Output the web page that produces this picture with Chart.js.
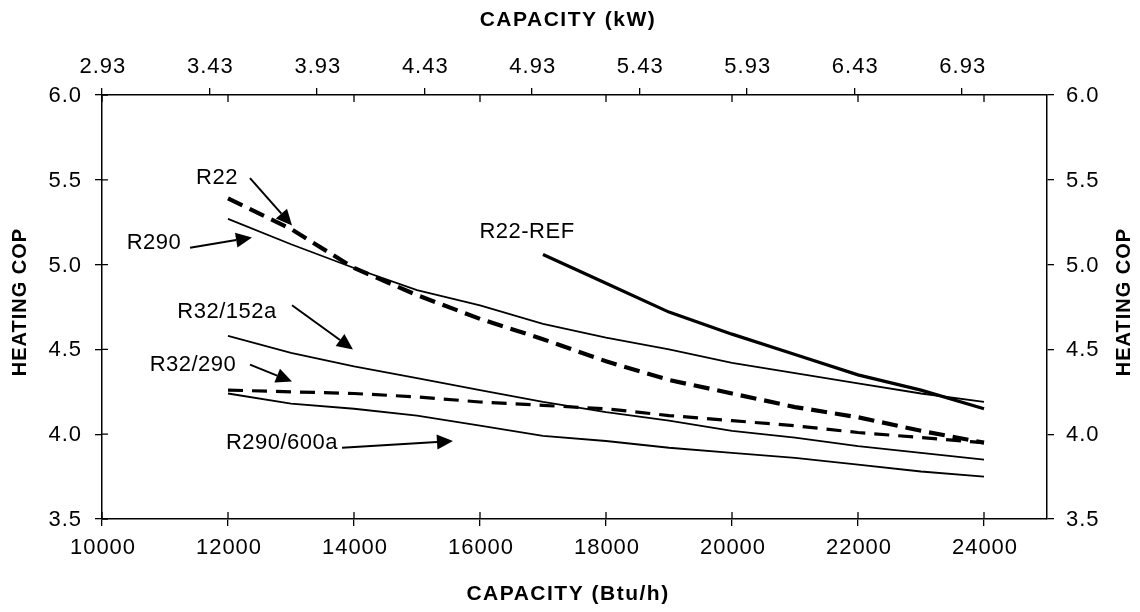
<!DOCTYPE html>
<html>
<head>
<meta charset="utf-8">
<script src="https://cdn.jsdelivr.net/npm/chart.js@4.4.1/dist/chart.umd.min.js"></script>
<style>
  html, body { margin: 0; padding: 0; background: #fff; }
  #wrap { width: 1140px; height: 612px; position: relative; }
</style>
</head>
<body>
<div id="wrap"><canvas id="c" width="1140" height="612"></canvas></div>
<script>
// ---- data ----
const capacityBtu = [12000, 13000, 14000, 15000, 16000, 17000, 18000, 19000, 20000, 21000, 22000, 23000, 24000];
const capacityRefBtu = [17000, 18000, 19000, 20000, 21000, 22000, 23000, 24000];
const copR22      = [5.39, 5.21, 4.98, 4.82, 4.68, 4.56, 4.43, 4.32, 4.24, 4.16, 4.10, 4.02, 3.95];
const copR290     = [5.27, 5.12, 4.98, 4.85, 4.76, 4.65, 4.57, 4.50, 4.42, 4.36, 4.30, 4.24, 4.19];
const copR22Ref   = [5.06, 4.89, 4.72, 4.59, 4.47, 4.35, 4.26, 4.15];
const copR32_152a = [4.58, 4.48, 4.40, 4.33, 4.26, 4.19, 4.13, 4.08, 4.02, 3.98, 3.93, 3.89, 3.85];
const copR32_290  = [4.26, 4.25, 4.24, 4.22, 4.19, 4.17, 4.15, 4.11, 4.08, 4.05, 4.01, 3.98, 3.95];
const copR290_600a= [4.24, 4.18, 4.15, 4.11, 4.05, 3.99, 3.96, 3.92, 3.89, 3.86, 3.82, 3.78, 3.75];

const btuTicks = [10000, 12000, 14000, 16000, 18000, 20000, 22000, 24000];
const kwTicks  = [2.93, 3.43, 3.93, 4.43, 4.93, 5.43, 5.93, 6.43, 6.93];
const copTicks = [3.5, 4.0, 4.5, 5.0, 5.5, 6.0];

const BTU_PER_KW = 3412.14;
const xMin = 10000, xMax = 25000;

const pts = (xs, ys) => xs.map((x, i) => ({ x: x, y: ys[i] }));

// annotations in data coordinates (Btu/h, COP)
const notes = [
  { text: 'R22',       tx: 11825, ty: 5.51, a: [12349, 5.51, 13016, 5.23] },
  { text: 'R290',      tx: 10825, ty: 5.13, a: [11397, 5.10, 12381, 5.16] },
  { text: 'R22-REF',   tx: 16746, ty: 5.19, a: null },
  { text: 'R32/152a',  tx: 11984, ty: 4.72, a: [13016, 4.76, 13984, 4.50] },
  { text: 'R32/290',   tx: 11444, ty: 4.41, a: [12349, 4.41, 13016, 4.31] },
  { text: 'R290/600a', tx: 12857, ty: 3.95, a: [13810, 3.92, 15571, 3.96] }
];

const FONT = '"Liberation Sans", Arial, sans-serif';

const crossTicks = {
  id: 'crossTicks',
  afterDraw(chart) {
    const ctx = chart.ctx, a = chart.chartArea;
    const x = chart.scales.x, y = chart.scales.y;
    ctx.save();
    ctx.strokeStyle = '#000';
    ctx.lineWidth = 1.3;
    ctx.beginPath();
    btuTicks.forEach(v => {
      const px = x.getPixelForValue(v);
      ctx.moveTo(px, a.bottom); ctx.lineTo(px, a.bottom - 7);
      ctx.moveTo(px, a.top); ctx.lineTo(px, a.top + 7);
    });
    copTicks.forEach(v => {
      const py = y.getPixelForValue(v);
      ctx.moveTo(a.left, py); ctx.lineTo(a.left + 6, py);
    });
    ctx.stroke();
    ctx.restore();
  }
};

// tick labels drawn at the scale positions
const tickLabels = {
  id: 'tickLabels',
  afterDraw(chart) {
    const ctx = chart.ctx, a = chart.chartArea, s = chart.scales;
    ctx.save();
    ctx.fillStyle = '#000';
    ctx.font = '22px ' + FONT;
    ctx.letterSpacing = '1px';
    ctx.textBaseline = 'middle';
    ctx.textAlign = 'center';
    btuTicks.forEach(v => ctx.fillText(String(v), s.x.getPixelForValue(v) + 1, a.bottom + 29));
    kwTicks.forEach(v => ctx.fillText(v.toFixed(2), s.x2.getPixelForValue(v) + 1, a.top - 28));
    ctx.textAlign = 'right';
    copTicks.forEach(v => ctx.fillText(v.toFixed(1), a.left - 20, s.y.getPixelForValue(v) + 1));
    ctx.textAlign = 'left';
    copTicks.forEach(v => ctx.fillText(v.toFixed(1), a.right + 19, s.y2.getPixelForValue(v) + 1));
    ctx.restore();
  }
};

const notesPlugin = {
  id: 'notes',
  afterDatasetsDraw(chart) {
    const ctx = chart.ctx;
    const x = chart.scales.x, y = chart.scales.y;
    ctx.save();
    ctx.fillStyle = '#000';
    ctx.strokeStyle = '#000';
    ctx.font = '22px ' + FONT;
    ctx.letterSpacing = '0.5px';
    ctx.textAlign = 'center';
    ctx.textBaseline = 'middle';
    notes.forEach(n => {
      ctx.fillText(n.text, x.getPixelForValue(n.tx), y.getPixelForValue(n.ty));
      if (n.a) {
        const x1 = x.getPixelForValue(n.a[0]), y1 = y.getPixelForValue(n.a[1]);
        const x2 = x.getPixelForValue(n.a[2]), y2 = y.getPixelForValue(n.a[3]);
        const ang = Math.atan2(y2 - y1, x2 - x1);
        const hl = 16, hw = 7.5;
        const bx = x2 - hl * Math.cos(ang), by = y2 - hl * Math.sin(ang);
        ctx.lineWidth = 2;
        ctx.beginPath(); ctx.moveTo(x1, y1); ctx.lineTo(bx, by); ctx.stroke();
        ctx.beginPath();
        ctx.moveTo(x2, y2);
        ctx.lineTo(bx + hw * Math.sin(ang), by - hw * Math.cos(ang));
        ctx.lineTo(bx - hw * Math.sin(ang), by + hw * Math.cos(ang));
        ctx.closePath(); ctx.fill();
      }
    });
    ctx.restore();
  }
};

const titlesPlugin = {
  id: 'titles',
  afterDraw(chart) {
    const ctx = chart.ctx;
    const cy = 302;
    ctx.save();
    ctx.fillStyle = '#000';
    ctx.font = 'bold 21px ' + FONT;
    ctx.letterSpacing = '1.5px';
    ctx.textAlign = 'center';
    ctx.textBaseline = 'middle';
    ctx.fillText('CAPACITY (kW)', 568, 20);
    ctx.fillText('CAPACITY (Btu/h)', 568, 594);
    ctx.font = 'bold 20px ' + FONT;
    ctx.letterSpacing = '1px';
    ctx.save(); ctx.translate(20, cy); ctx.rotate(-Math.PI / 2); ctx.fillText('HEATING COP', 0, 0); ctx.restore();
    ctx.save(); ctx.translate(1124, cy); ctx.rotate(-Math.PI / 2); ctx.fillText('HEATING COP', 0, 0); ctx.restore();
    ctx.restore();
  }
};

const thin = { borderColor: '#000', borderWidth: 1.8, pointRadius: 0, fill: false, tension: 0 };
const axisGrid = { display: true, drawOnChartArea: false, drawTicks: true, tickLength: 7, color: '#000', lineWidth: 1.3 };
const axisBorder = { display: true, color: '#000', width: 1.5 };

new Chart(document.getElementById('c'), {
  type: 'line',
  data: {
    datasets: [
      Object.assign({}, thin, { label: 'R22', data: pts(capacityBtu, copR22), borderWidth: 4.2, borderDash: [16, 8] }),
      Object.assign({}, thin, { label: 'R290', data: pts(capacityBtu, copR290) }),
      Object.assign({}, thin, { label: 'R22-REF', data: pts(capacityRefBtu, copR22Ref), borderWidth: 3.2 }),
      Object.assign({}, thin, { label: 'R32/152a', data: pts(capacityBtu, copR32_152a) }),
      Object.assign({}, thin, { label: 'R32/290', data: pts(capacityBtu, copR32_290), borderWidth: 3.2, borderDash: [15, 9] }),
      Object.assign({}, thin, { label: 'R290/600a', data: pts(capacityBtu, copR290_600a) })
    ]
  },
  options: {
    responsive: false,
    animation: false,
    devicePixelRatio: 1,
    layout: { padding: 0 },
    plugins: { legend: { display: false }, tooltip: { enabled: false } },
    scales: {
      x: {
        type: 'linear', position: 'bottom', min: xMin, max: xMax,
        afterBuildTicks: s => { s.ticks = btuTicks.map(v => ({ value: v })); },
        afterFit: s => { s.height = 93; },
        grid: axisGrid, border: axisBorder,
        ticks: { display: false }
      },
      x2: {
        type: 'linear', position: 'top', min: xMin / BTU_PER_KW, max: xMax / BTU_PER_KW,
        afterBuildTicks: s => { s.ticks = kwTicks.map(v => ({ value: v })); },
        afterFit: s => { s.height = 95; },
        grid: axisGrid, border: axisBorder,
        ticks: { display: false }
      },
      y: {
        type: 'linear', position: 'left', min: 3.5, max: 6.0,
        afterBuildTicks: s => { s.ticks = copTicks.map(v => ({ value: v })); },
        afterFit: s => { s.width = 102; },
        grid: axisGrid, border: axisBorder,
        ticks: { display: false }
      },
      y2: {
        type: 'linear', position: 'right', min: 3.5, max: 6.0,
        afterBuildTicks: s => { s.ticks = copTicks.map(v => ({ value: v })); },
        afterFit: s => { s.width = 93; },
        grid: axisGrid, border: axisBorder,
        ticks: { display: false }
      }
    }
  },
  plugins: [crossTicks, tickLabels, notesPlugin, titlesPlugin]
});
</script>
</body>
</html>
